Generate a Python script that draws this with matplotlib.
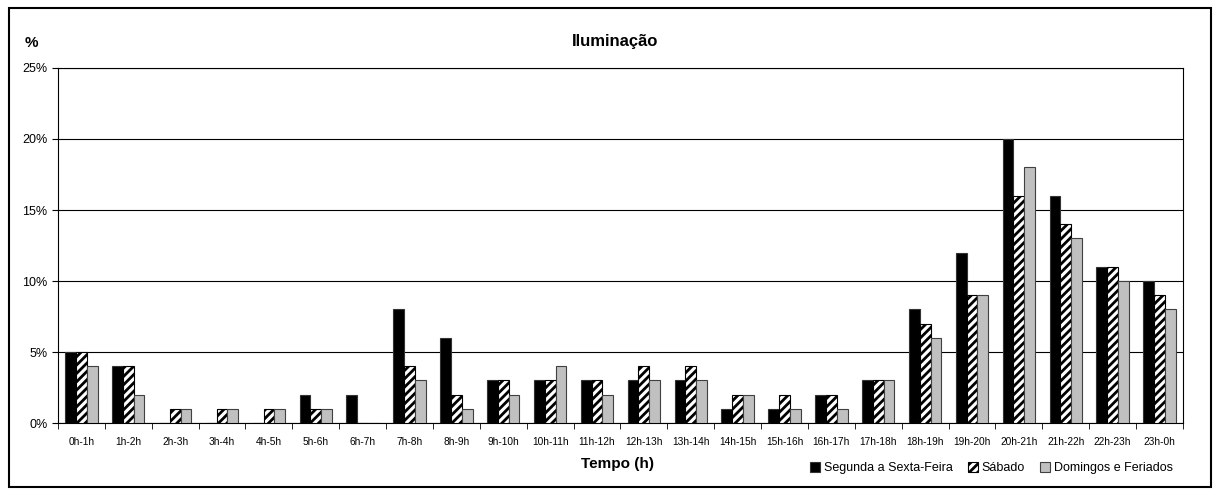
import numpy as np
import matplotlib.pyplot as plt
from matplotlib.patches import Rectangle
from matplotlib.ticker import FuncFormatter, FixedLocator

plt.rcParams['font.family'] = ['Liberation Sans', 'DejaVu Sans']
plt.rcParams['hatch.linewidth'] = 2.0

labels = ['0h-1h', '1h-2h', '2h-3h', '3h-4h', '4h-5h', '5h-6h', '6h-7h', '7h-8h',
          '8h-9h', '9h-10h', '10h-11h', '11h-12h', '12h-13h', '13h-14h', '14h-15h',
          '15h-16h', '16h-17h', '17h-18h', '18h-19h', '19h-20h', '20h-21h',
          '21h-22h', '22h-23h', '23h-0h']
semana = [5, 4, 0, 0, 0, 2, 2, 8, 6, 3, 3, 3, 3, 3, 1, 1, 2, 3, 8, 12, 20, 16, 11, 10]
sabado = [5, 4, 1, 1, 1, 1, 0, 4, 2, 3, 3, 3, 4, 4, 2, 2, 2, 3, 7, 9, 16, 14, 11, 9]
domingos = [4, 2, 1, 1, 1, 1, 0, 3, 1, 2, 4, 2, 3, 3, 2, 1, 1, 3, 6, 9, 18, 13, 10, 8]
series_names = ['Segunda a Sexta-Feira', 'Sábado', 'Domingos e Feriados']

fig = plt.figure(figsize=(12.18, 4.96), dpi=100)
fig.patches.append(Rectangle((0.007, 0.018), 0.987, 0.966, transform=fig.transFigure,
                             fill=False, edgecolor='black', linewidth=1.5))
ax = fig.add_axes([0.0476, 0.147, 0.9236, 0.716])

x = np.arange(len(labels))
w = 0.23
ax.bar(x - w, semana, w, color='black', edgecolor='#333333', linewidth=0.8,
       label=series_names[0], zorder=3)
ax.bar(x, sabado, w, color='white', edgecolor='black', hatch='////', linewidth=0.8,
       label=series_names[1], zorder=3)
ax.bar(x + w, domingos, w, color='#c0c0c0', edgecolor='#404040', linewidth=0.8,
       label=series_names[2], zorder=3)

ax.set_xlim(-0.5, len(labels) - 0.5)
ax.set_ylim(0, 25)
ax.yaxis.set_major_locator(FixedLocator([0, 5, 10, 15, 20, 25]))
ax.yaxis.set_major_formatter(FuncFormatter(lambda v, p: f'{int(v)}%'))
ax.grid(axis='y', color='black', linewidth=0.8, zorder=0)
ax.set_xticks(x)
ax.set_xticklabels(labels, fontsize=7.3)
ax.set_xticks(np.arange(len(labels) + 1) - 0.5, minor=True)
ax.tick_params(axis='x', which='major', length=0, pad=10)
ax.tick_params(axis='x', which='minor', length=4, direction='out')
ax.tick_params(axis='y', labelsize=9, length=4, direction='out')
for s in ax.spines.values():
    s.set_linewidth(0.8)

fig.text(0.505, 0.917, 'Iluminação', ha='center', va='center', fontsize=12, fontweight='bold')
fig.text(0.026, 0.914, '%', ha='center', va='center', fontsize=11, fontweight='bold')
fig.text(0.507, 0.064, 'Tempo (h)', ha='center', va='center', fontsize=11, fontweight='bold')

fig.legend(loc='center right', bbox_to_anchor=(0.972, 0.056), ncol=3, frameon=False,
           fontsize=9, handlelength=0.8, handleheight=0.8, handletextpad=0.3,
           columnspacing=1.2)

fig.savefig('out.png', dpi=100)
